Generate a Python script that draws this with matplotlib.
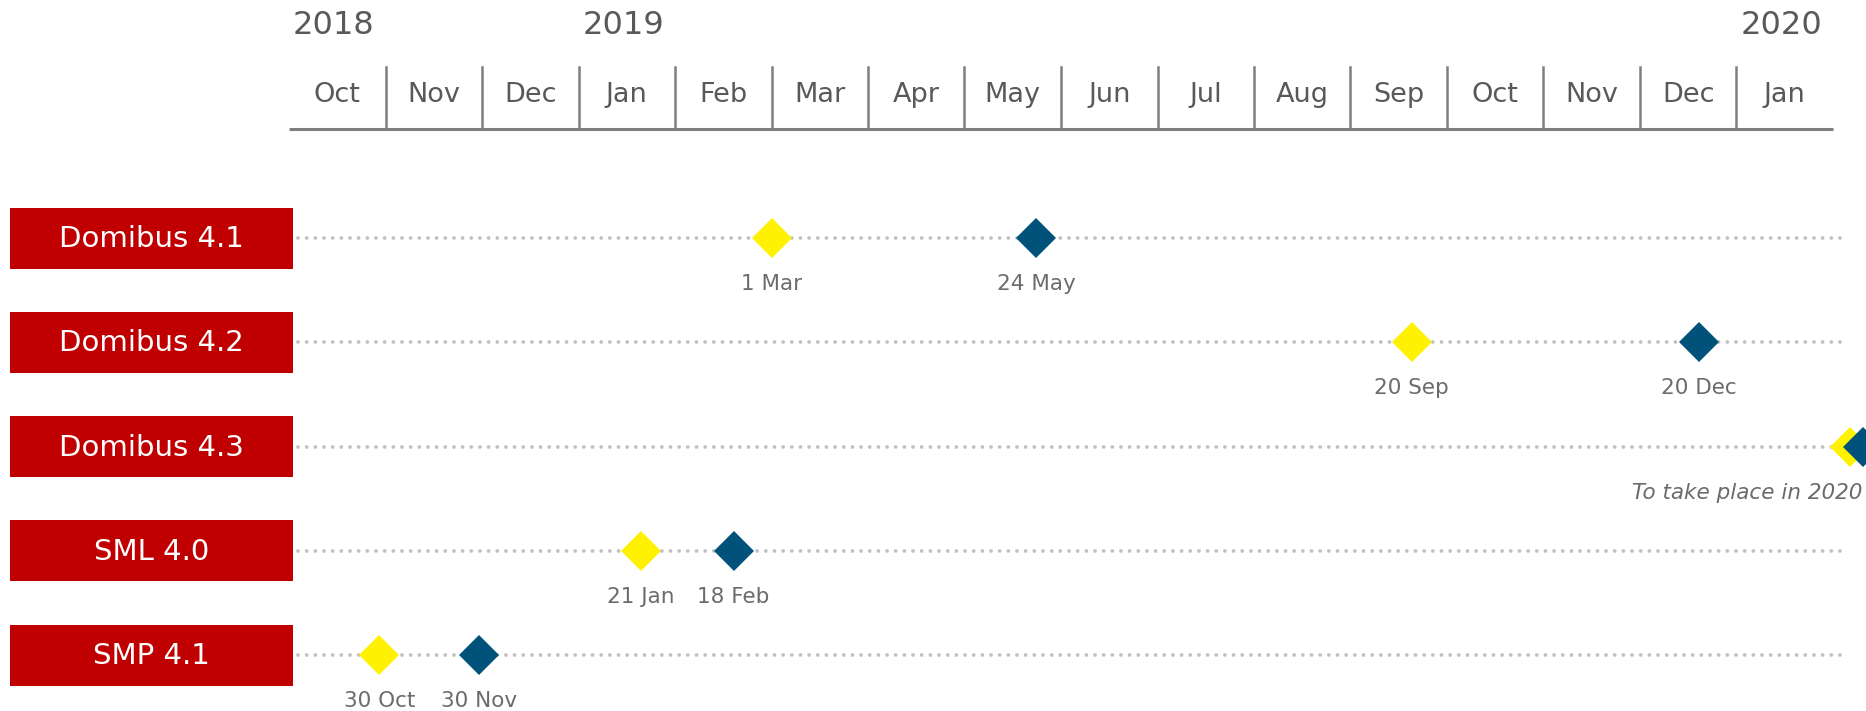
import datetime as dt
import calendar
import matplotlib
matplotlib.use('Agg')
import matplotlib.pyplot as plt
from matplotlib.patches import Rectangle

# header of the timeline: one cell per month, Oct 2018 .. Jan 2020
months = ['Oct', 'Nov', 'Dec', 'Jan', 'Feb', 'Mar', 'Apr', 'May',
          'Jun', 'Jul', 'Aug', 'Sep', 'Oct', 'Nov', 'Dec', 'Jan']
years = ['2018', '2019', '2020']
year_first_month = [0, 3, 15]
start = dt.date(2018, 10, 1)

# releases
products = ['Domibus 4.1', 'Domibus 4.2', 'Domibus 4.3', 'SML 4.0', 'SMP 4.1']
first_dates = [dt.date(2019, 3, 1), dt.date(2019, 9, 20), dt.date(2020, 2, 6),
               dt.date(2019, 1, 21), dt.date(2018, 10, 30)]
second_dates = [dt.date(2019, 5, 24), dt.date(2019, 12, 20), dt.date(2020, 2, 10),
                dt.date(2019, 2, 18), dt.date(2018, 11, 30)]
first_labels = ['1 Mar', '20 Sep', '', '21 Jan', '30 Oct']
second_labels = ['24 May', '20 Dec', '', '18 Feb', '30 Nov']
notes = ['', '', 'To take place in 2020', '', '']

RED = '#C00000'
YELLOW = '#FFF100'
BLUE = '#00527A'
GREY_TXT = '#595959'
GREY_LBL = '#6b6b6b'
GREY_AX = '#7F7F7F'
DOTS = '#C0C0C0'

W, H = 1866, 711
MONTH_PX = 96.5
X0_PX = 289          # pixel where Oct 2018 starts
ROW_Y0 = 238
ROW_DY = 104.3


def mpos(d):
    # months since start, fractional by day of month
    n = (d.year - start.year) * 12 + d.month - start.month
    return n + (d.day - 1) / calendar.monthrange(d.year, d.month)[1]


def px2x(px):
    return (px - X0_PX) / MONTH_PX


plt.rcParams['font.family'] = ['DejaVu Sans']

fig = plt.figure(figsize=(W / 100, H / 100), dpi=100)
ax = fig.add_axes([0, 0, 1, 1])
ax.set_xlim(px2x(0), px2x(W))
ax.set_ylim(H, 0)
ax.axis('off')

# header
axis_y = 129
ax.plot([0, len(months)], [axis_y, axis_y], color=GREY_AX, lw=2.2,
        solid_capstyle='butt')
for i in range(1, len(months)):
    ax.plot([i, i], [67, axis_y], color=GREY_AX, lw=1.8)
for i, m in enumerate(months):
    ax.text(i + 0.5, 95, m, ha='center', va='center', fontsize=19.5,
            color=GREY_TXT)
for y, i in zip(years, year_first_month):
    ax.text(i + 0.04, 26, y, ha='left', va='center', fontsize=23,
            color=GREY_TXT)

# rows
box_l, box_r = px2x(9.5), px2x(293)
for r, name in enumerate(products):
    y = ROW_Y0 + ROW_DY * r
    ax.add_patch(Rectangle((box_l, y - 30.5), box_r - box_l, 61,
                           facecolor=RED, edgecolor='none', zorder=2))
    ax.text((box_l + box_r) / 2, y + 1, name, ha='center', va='center',
            fontsize=21, color='white', zorder=3)
    ax.plot([px2x(298), px2x(1848)], [y, y], color=DOTS, lw=2.7,
            linestyle=(0, (0.01, 2.3)), dash_capstyle='round', zorder=1)

    x1 = mpos(first_dates[r])
    x2 = mpos(second_dates[r])
    ax.plot(x1, y, marker='D', ms=20, color=YELLOW, mew=0, zorder=4)
    ax.plot(x2, y, marker='D', ms=20, color=BLUE, mew=0, zorder=5)
    if first_labels[r]:
        ax.text(x1, y + 46, first_labels[r], ha='center', va='center',
                fontsize=15.5, color=GREY_LBL)
    if second_labels[r]:
        ax.text(x2, y + 46, second_labels[r], ha='center', va='center',
                fontsize=15.5, color=GREY_LBL)
    if notes[r]:
        ax.text(x2 - 0.01, y + 46, notes[r], ha='right', va='center',
                fontsize=15.5, style='italic', color=GREY_LBL)

fig.savefig('out.png', dpi=100)
